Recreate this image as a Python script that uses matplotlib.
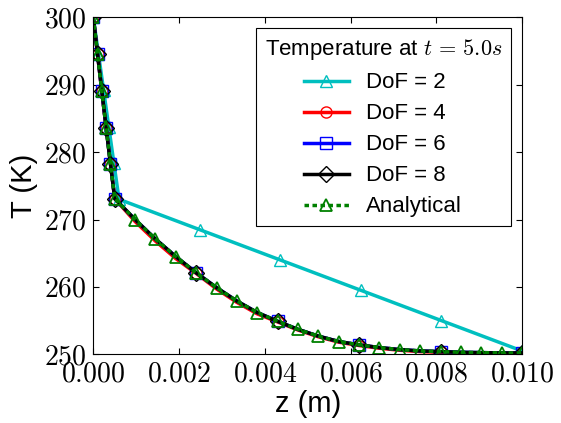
import matplotlib
matplotlib.use("Agg")
import matplotlib.pyplot as plt
from matplotlib.ticker import FuncFormatter

plt.rcParams['font.family'] = ['Liberation Sans', 'DejaVu Sans']
plt.rcParams['mathtext.fontset'] = 'cm'

# ---- data ----
z_dof2 = [0.0, 0.00012, 0.00024, 0.00036, 0.00048, 0.0006,
          0.00248, 0.00436, 0.00624, 0.00812, 0.0100]
T_dof2 = [300.0, 294.6, 289.2, 283.8, 278.4, 273.0,
          268.5, 264.0, 259.5, 255.0, 250.5]

z_fine = [0.0, 0.0001, 0.0002, 0.0003, 0.0004, 0.0005,
          0.000975, 0.00145, 0.001925, 0.0024, 0.002875, 0.00335, 0.003825,
          0.0043, 0.004775, 0.00525, 0.005725, 0.0062, 0.006675, 0.00715,
          0.007625, 0.0081, 0.008575, 0.00905, 0.009525, 0.0100]
node_idx = [0, 1, 2, 3, 4, 5, 9, 13, 17, 21, 25]

T_dof4 = [300.0, 294.5, 289.0, 283.6, 278.3, 273.1,
          269.7, 266.8, 264.2, 262.0, 259.7, 257.7, 256.0,
          254.8, 253.6, 252.6, 251.8, 251.3, 250.9, 250.6,
          250.4, 250.3, 250.15, 250.1, 250.1, 250.2]
T_dof6 = [300.0, 294.5, 289.0, 283.6, 278.3, 273.1,
          270.0, 267.1, 264.5, 262.1, 259.9, 257.9, 256.2,
          254.9, 253.7, 252.7, 251.9, 251.4, 251.0, 250.7,
          250.5, 250.4, 250.3, 250.25, 250.2, 250.2]
T_dof8 = [300.0, 294.5, 289.0, 283.6, 278.3, 273.1,
          270.0, 267.1, 264.5, 262.1, 259.9, 257.9, 256.2,
          254.9, 253.7, 252.7, 251.9, 251.4, 251.0, 250.7,
          250.5, 250.4, 250.3, 250.25, 250.2, 250.2]
T_analytical = [300.0, 294.5, 289.0, 283.6, 278.3, 273.1,
                270.0, 267.1, 264.5, 262.1, 259.9, 257.9, 256.2,
                254.9, 253.7, 252.7, 251.9, 251.4, 251.0, 250.7,
                250.5, 250.4, 250.3, 250.25, 250.2, 250.2]

x_ticks = [0.000, 0.002, 0.004, 0.006, 0.008, 0.010]
y_ticks = [250, 260, 270, 280, 290, 300]

fig = plt.figure(figsize=(5.61, 4.23), dpi=100)
ax = fig.add_axes([0.1663, 0.1624, 0.9305 - 0.1663, 0.959 - 0.1624])

lw = 2.5
ms = 8
ax.plot(z_dof2, T_dof2, color='c', lw=lw, marker='^', ms=ms, mfc='none',
        mec='c', mew=1.0, label='DoF = 2')
ax.plot(z_fine, T_dof4, color='r', lw=lw, marker='o', ms=ms, mfc='none',
        mec='r', mew=1.0, markevery=node_idx, label='DoF = 4')
ax.plot(z_fine, T_dof6, color='b', lw=lw, marker='s', ms=ms, mfc='none',
        mec='b', mew=1.0, markevery=node_idx, label='DoF = 6')
ax.plot(z_fine, T_dof8, color='k', lw=lw, marker='D', ms=ms, mfc='none',
        mec='k', mew=1.0, markevery=node_idx, label='DoF = 8')
ax.plot(z_fine, T_analytical, color='g', lw=lw, dashes=(1.3, 1.0),
        marker='^', ms=ms, mfc='none', mec='g', mew=1.3, label='Analytical')

ax.set_xlim(0, 0.010)
ax.set_ylim(250, 300)
ax.set_xticks(x_ticks)
ax.set_yticks(y_ticks)
ax.xaxis.set_major_formatter(FuncFormatter(lambda v, p: r'$%.3f$' % v))
ax.yaxis.set_major_formatter(FuncFormatter(lambda v, p: r'$%d$' % round(v)))
ax.tick_params(direction='in', top=True, right=True, length=4, width=0.8,
               labelsize=20, pad=5)
for s in ax.spines.values():
    s.set_linewidth(0.8)

ax.set_xlabel('z (m)', fontsize=21, labelpad=2)
ax.set_ylabel('T (K)', fontsize=21, labelpad=4)

leg = ax.legend(loc='upper right', numpoints=1, fontsize=16,
                title=r'Temperature at $t\,=\,5.0s$', title_fontsize=16,
                fancybox=False, edgecolor='k', framealpha=1,
                labelspacing=0.45, borderaxespad=0.5)
leg.get_frame().set_linewidth(0.8)

fig.savefig('out.png', dpi=100)
